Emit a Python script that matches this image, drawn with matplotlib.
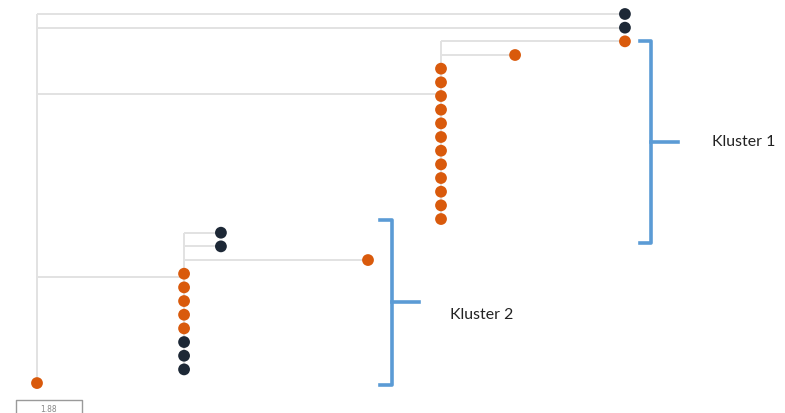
import matplotlib.pyplot as plt

# distance from root for every leaf, top to bottom
leaf_dist = [16.75, 16.75, 16.75, 13.62,
             11.51, 11.51, 11.51, 11.51, 11.51, 11.51,
             11.51, 11.51, 11.51, 11.51, 11.51, 11.51,
             5.24, 5.24, 9.43,
             4.19, 4.19, 4.19, 4.19, 4.19, 4.19, 4.19, 4.19,
             0.0]
leaf_group = ['b', 'b', 'o', 'o',
              'o', 'o', 'o', 'o', 'o', 'o',
              'o', 'o', 'o', 'o', 'o', 'o',
              'b', 'b', 'o',
              'o', 'o', 'o', 'o', 'o', 'b', 'b', 'b',
              'o']

# internal nodes: distance, row where the parent edge enters, leaf rows below
clade1 = dict(dist=11.51, row=5.85, leaves=list(range(2, 16)))
clade2 = dict(dist=4.19, row=19.24, leaves=list(range(16, 27)))
root_leaves = [0, 1, 27]

scale_len = 1.88
cluster_names = ['Kluster 1', 'Kluster 2']

colors = {'o': '#d95a0c', 'b': '#1d2836'}
edge = dict(color='#e2e2e2', lw=1.4, zorder=1, solid_capstyle='butt')

fig = plt.figure(figsize=(7.85, 4.13), dpi=100)
ax = fig.add_axes([0, 0, 1, 1])
ax.set_xlim(-1.054, 21.31)
ax.set_ylim(29.19, -1.024)
ax.axis('off')

# root
ax.plot([0, 0], [0, 27], **edge)
for i in root_leaves:
    ax.plot([0, leaf_dist[i]], [i, i], **edge)
for cl in (clade1, clade2):
    ax.plot([0, cl['dist']], [cl['row'], cl['row']], **edge)
    rows = cl['leaves']
    ax.plot([cl['dist'], cl['dist']], [rows[0], rows[-1]], **edge)
    for i in rows:
        if leaf_dist[i] > cl['dist']:
            ax.plot([cl['dist'], leaf_dist[i]], [i, i], **edge)

ax.scatter(leaf_dist, range(len(leaf_dist)), s=72,
           c=[colors[g] for g in leaf_group], zorder=3, linewidths=0)

# cluster brackets
blue = '#5b9bd5'
def bracket(x0, x1, y0, y1, ym, xt, name, tx, ty):
    ax.plot([x0, x1, x1, x0], [y0, y0, y1, y1], color=blue, lw=2.6,
            solid_joinstyle='round', zorder=2)
    ax.plot([x1, xt], [ym, ym], color=blue, lw=2.6, zorder=2)
    ax.text(tx, ty, name, fontsize=11.4, family=['Lato', 'DejaVu Sans'],
            color='#222222', va='center', ha='left')

bracket(17.17, 17.49, 1.95, 16.73, 9.34, 18.26, cluster_names[0], 19.24, 9.34)
bracket(9.77, 10.1, 15.07, 27.14, 21.1, 10.88, cluster_names[1], 11.76, 22.0)

# scale bar
sx = -0.6
ax.plot([sx, sx, sx + scale_len, sx + scale_len], [29.5, 28.24, 28.24, 29.5],
        color='#9a9a9a', lw=1.0, clip_on=True)
ax.text(sx + scale_len / 2, 28.9, '%.2f' % scale_len, fontsize=5.5,
        color='#888888', ha='center', va='center')

fig.savefig('out.png', dpi=100)
